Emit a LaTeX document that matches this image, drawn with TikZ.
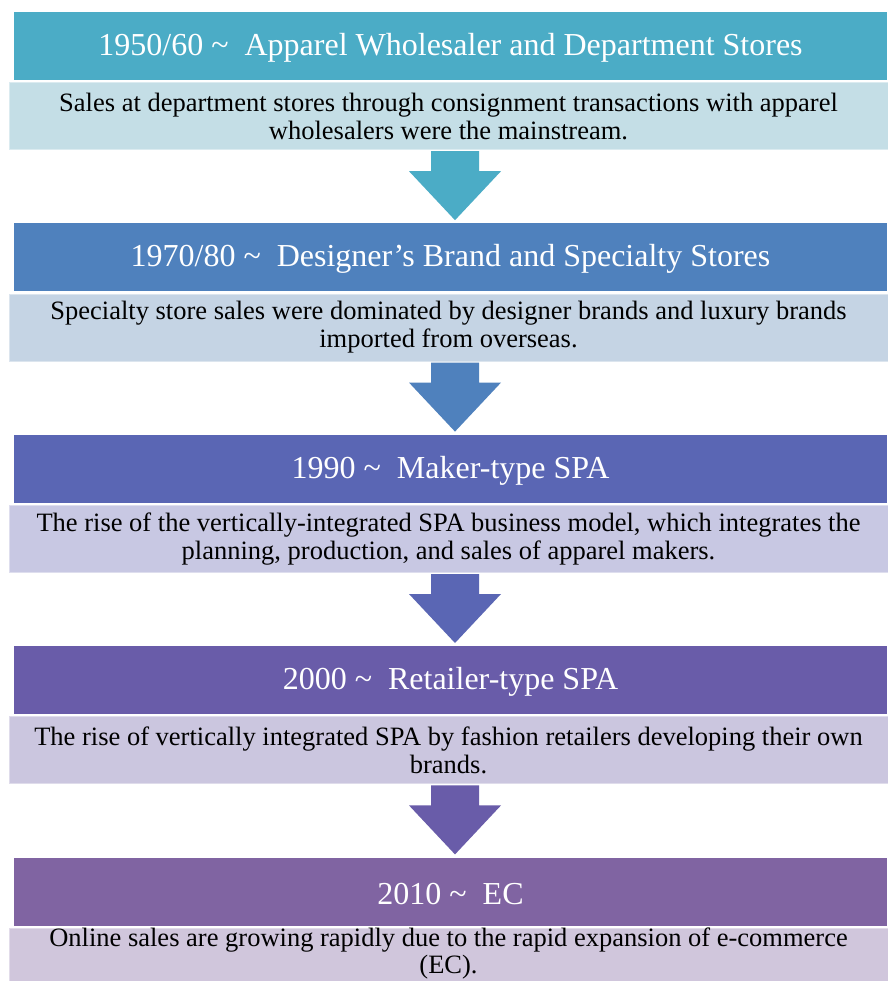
\documentclass[tikz,border=0pt]{standalone}
\usepackage{fontspec}
\setmainfont{Liberation Serif}
\usepackage{tikz}
\usetikzlibrary{positioning,calc}
\definecolor{stteal}{HTML}{4BACC6}
\definecolor{stblue}{HTML}{4F81BD}
\definecolor{stindigo}{HTML}{5A66B4}
\definecolor{stviolet}{HTML}{695CA9}
\definecolor{stpurple}{HTML}{8064A2}
\definecolor{stteallight}{HTML}{C4DEE6}
\definecolor{stbluelight}{HTML}{C5D4E4}
\definecolor{stindigolight}{HTML}{C8C8E3}
\definecolor{stvioletlight}{HTML}{CBC6DF}
\definecolor{stpurplelight}{HTML}{D0C6DC}
\tikzset{
  header/.style={rectangle, inner sep=0pt, minimum width=873pt, minimum height=68pt, text=white, font=\fontsize{32}{36}\selectfont, execute at begin node={\rule{0pt}{26pt}}},
  detail/.style={rectangle, inner sep=0pt, minimum width=880pt, minimum height=68pt, align=center, draw=white, draw opacity=0.4, line width=2pt, font=\fontsize{26.5}{28}\selectfont, execute at begin node={\rule{0pt}{27pt}}},
  lastdetail/.style={rectangle, inner sep=0pt, minimum width=880pt, minimum height=59pt, align=center, draw=white, draw opacity=0.4, line width=2pt, font=\fontsize{26.5}{27}\selectfont, execute at end node={\rule[-17pt]{0pt}{17pt}}}
}
% block arrow hanging under a detail box
\newcommand{\downblock}[2]{%
  \fill[#2] ($(#1.south)+(-17.5,0)$) -- ($(#1.south)+(30.5,0)$) -- ($(#1.south)+(30.5,20)$)
    -- ($(#1.south)+(52.5,20)$) -- ($(#1.south)+(6.5,69)$) -- ($(#1.south)+(-39.5,20)$)
    -- ($(#1.south)+(-17.5,20)$) -- cycle;}

\begin{document}
\begin{tikzpicture}[x=1pt,y=-1pt]
\useasboundingbox[fill=white] (0,0) rectangle (887,981);
\node[header, fill=stteal] (h1) at (450.5,46) {1950/60 \textasciitilde\ \ Apparel Wholesaler and Department Stores};
\node[detail, fill=stteallight, below=1pt of h1, xshift=-2pt] (d1) {Sales at department stores through consignment transactions with apparel\\wholesalers were the mainstream.};
\node[header, fill=stblue, below=72pt of d1, xshift=2pt] (h2) {1970/80 \textasciitilde\ \ Designer’s Brand and Specialty Stores};
\node[detail, fill=stbluelight, below=1pt of h2, xshift=-2pt] (d2) {Specialty store sales were dominated by designer brands and luxury brands\\imported from overseas.};
\node[header, fill=stindigo, below=72pt of d2, xshift=2pt] (h3) {1990 \textasciitilde\ \ Maker-type SPA};
\node[detail, fill=stindigolight, below=1pt of h3, xshift=-2pt] (d3) {The rise of the vertically-integrated SPA business model, which integrates the\\planning, production, and sales of apparel makers.};
\node[header, fill=stviolet, below=72pt of d3, xshift=2pt] (h4) {2000 \textasciitilde\ \ Retailer-type SPA};
\node[detail, fill=stvioletlight, below=1pt of h4, xshift=-2pt] (d4) {The rise of vertically integrated SPA by fashion retailers developing their own\\brands.};
\node[header, fill=stpurple, below=72pt of d4, xshift=2pt] (h5) {2010 \textasciitilde\ \ EC};
\node[lastdetail, fill=stpurplelight, below=1pt of h5, xshift=-2pt] (d5) {Online sales are growing rapidly due to the rapid expansion of e-commerce\\(EC).};
\downblock{d1}{stteal}
\downblock{d2}{stblue}
\downblock{d3}{stindigo}
\downblock{d4}{stviolet}
\end{tikzpicture}
\end{document}
